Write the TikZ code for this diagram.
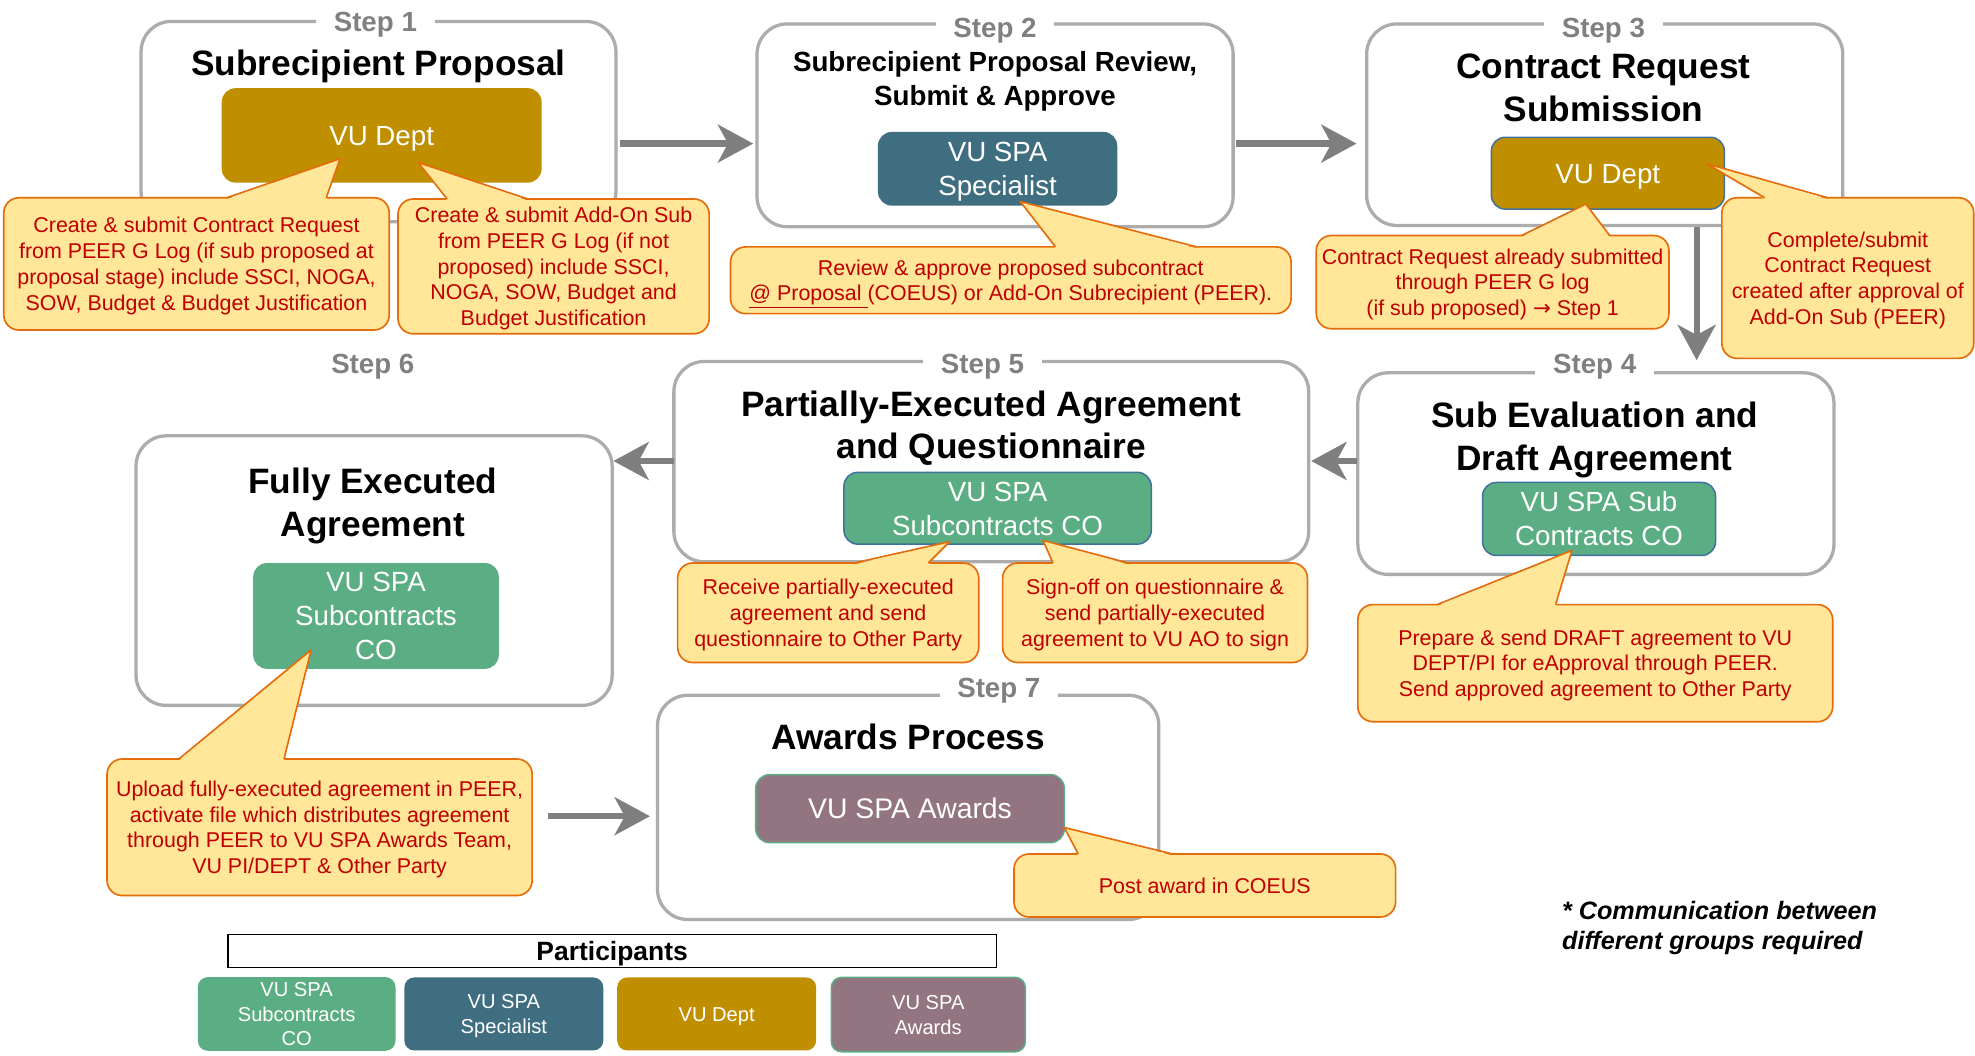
\documentclass[tikz,border=0pt]{standalone}
\usepackage{fontspec}
\setmainfont{Liberation Sans}
\newfontfamily\arrowfont{DejaVu Sans}
\usetikzlibrary{arrows.meta,calc}
\definecolor{stepgray}{RGB}{172,172,172}
\definecolor{labelgray}{RGB}{128,128,128}
\definecolor{arrowgray}{RGB}{127,127,127}
\definecolor{rolegold}{RGB}{191,143,0}
\definecolor{roleblue}{RGB}{63,110,129}
\definecolor{rolegreen}{RGB}{91,174,132}
\definecolor{rolepurple}{RGB}{147,117,130}
\definecolor{roleedge}{RGB}{65,113,156}
\definecolor{callfill}{RGB}{255,230,153}
\definecolor{calledge}{RGB}{228,108,10}
\definecolor{calltext}{RGB}{192,0,0}
\newcommand{\ptr}[4]{%
  \fill[callfill] ($(#2,0 |- #1.north)+(0,1.2)$) -- (#4) -- ($(#3,0 |- #1.north)+(0,1.2)$) -- cycle;
  \draw[draw=calledge, line width=1.3pt, line join=round] (#2,0 |- #1.north) -- (#4) -- (#3,0 |- #1.north);
}
\newcommand{\cl}[2][2pt]{\raisebox{-#1}[\height][\depth]{\begin{tabular}{@{}c@{}}#2\end{tabular}}}
\tikzset{
 stepbox/.style={draw=stepgray, line width=2.6pt, rounded corners=24pt, fill=white, inner sep=0pt, outer sep=0pt},
 steplabel/.style={fill=white, text=labelgray, font=\bfseries\fontsize{22}{26}\selectfont, inner xsep=14pt, inner ysep=2pt, text height=15.8pt, text depth=0pt},
 titletext/.style={font=\bfseries\fontsize{28}{34}\selectfont, align=center, inner sep=0pt},
 rolebox/.style={rounded corners=11pt, text=white, font=\fontsize{22}{27}\selectfont, inner sep=0pt, outer sep=0pt},
 callbox/.style={fill=callfill, draw=calledge, line width=1.3pt, rounded corners=12pt, text=calltext, font=\fontsize{17}{20.5}\selectfont, inner sep=0pt, outer sep=0pt},
 flow/.style={draw=arrowgray, line width=5pt, -{Stealth[length=28pt,width=30pt,inset=8pt]}},
 partbox/.style={rounded corners=8pt, text=white, font=\fontsize{16}{19.5}\selectfont, inner sep=0pt, outer sep=0pt},
}
\begin{document}
\begin{tikzpicture}[x=1pt,y=-1pt]
\useasboundingbox (0,0) rectangle (1568,838);
\fill[white] (0,0) rectangle (1568,838);

% step boxes
\node[stepbox, minimum width=377pt, minimum height=159pt] (s1) at (300.5,96.5) {};
\node[stepbox, minimum width=378pt, minimum height=161pt] (s2) at (790,99.5) {};
\node[stepbox, minimum width=378pt, minimum height=160pt] (s3) at (1274,99) {};
\node[stepbox, minimum width=378pt, minimum height=160pt] (s4) at (1267,376) {};
\node[stepbox, minimum width=504pt, minimum height=159pt] (s5) at (787,366.5) {};
\node[stepbox, minimum width=378pt, minimum height=214pt] (s6) at (297,453) {};
\node[stepbox, minimum width=398pt, minimum height=178pt] (s7) at (721,641) {};

% step labels
\node[steplabel] (l1) at (298,17) {Step 1};
\node[steplabel] (l2) at (790,22) {Step 2};
\node[steplabel] (l3) at (1273,22) {Step 3};
\node[steplabel] (l4) at (1266,289) {Step 4};
\node[steplabel] (l5) at (780,289) {Step 5};
\node[steplabel] (l6) at (296,289) {Step 6};
\node[steplabel] (l7) at (793,546) {Step 7};

% titles
\node[titletext] (t1) at (300.5,52.5) {Subrecipient Proposal};
\node[titletext, font=\bfseries\fontsize{22}{27}\selectfont] (t2) at (790,64.5) {Subrecipient Proposal Review,\\Submit \& Approve};
\node[titletext] (t3) at (1273,69.5) {Contract Request\\Submission};
\node[titletext] (t4) at (1266,349.5) {Sub Evaluation and\\Draft Agreement};
\node[titletext] (t5) at (787,340) {Partially-Executed Agreement\\and Questionnaire};
\node[titletext] (t6) at (296,401.5) {Fully Executed\\Agreement};
\node[titletext] (t7) at (721,585) {Awards Process};

% role boxes
\node[rolebox, fill=rolegold, minimum width=254pt, minimum height=75pt] (r1) at (303,107.5) {\cl[2.5pt]{VU Dept}};
\node[rolebox, fill=roleblue, minimum width=190pt, minimum height=58.5pt] (r2) at (792,134) {\cl[2.5pt]{VU SPA\\Specialist}};
\node[rolebox, fill=rolegold, draw=roleedge, line width=1.2pt, minimum width=185pt, minimum height=57pt] (r3) at (1276.5,137.5) {\cl[2.5pt]{VU Dept}};
\node[rolebox, fill=rolegreen, draw=roleedge, line width=1.2pt, minimum width=185pt, minimum height=58pt] (r4) at (1269.5,412) {\cl[2.5pt]{VU SPA Sub\\Contracts CO}};
\node[rolebox, fill=rolegreen, draw=roleedge, line width=1.2pt, minimum width=244pt, minimum height=57pt] (r5) at (792,403.5) {\cl[2.5pt]{VU SPA\\Subcontracts CO}};
\node[rolebox, fill=rolegreen, minimum width=195pt, minimum height=84pt] (r6) at (298.5,489) {\cl[2.5pt]{VU SPA\\Subcontracts\\CO}};
\node[rolebox, fill=rolepurple, draw=rolegreen, line width=1.2pt, minimum width=245pt, minimum height=54pt, font=\fontsize{22.5}{27}\selectfont] (r7) at (722.5,642) {\cl[2.5pt]{VU SPA Awards}};

% callouts
\node[callbox, minimum width=306pt, minimum height=105pt] (c1a) at (156,209.5) {\cl{Create \& submit Contract Request\\from PEER G Log (if sub proposed at\\proposal stage) include SSCI, NOGA,\\SOW, Budget \& Budget Justification}};
\coordinate (p1a) at (270,126);
\ptr{c1a}{180}{259}{p1a}
\node[callbox, minimum width=247pt, minimum height=107pt] (c1b) at (439.5,211.5) {\cl{Create \& submit Add-On Sub\\from PEER G Log (if not\\proposed) include SSCI,\\NOGA, SOW, Budget and\\Budget Justification}};
\coordinate (p1b) at (332,129);
\ptr{c1b}{355}{419}{p1b}
\node[callbox, minimum width=445pt, minimum height=53pt] (c2) at (802.5,222.5) {\cl{Review \& approve proposed subcontract\\\underline{@ Proposal }(COEUS) or Add-On Subrecipient (PEER).}};
\coordinate (p2) at (810,160);
\ptr{c2}{838}{950}{p2}
\node[callbox, minimum width=280pt, minimum height=74pt] (c3a) at (1185,224) {\cl{Contract Request already submitted\\through PEER G log\\(if sub proposed) {\arrowfont →} Step 1}};
\coordinate (p3a) at (1259,162);
\ptr{c3a}{1208}{1278}{p3a}
\node[callbox, minimum width=200pt, minimum height=127.5pt] (c3b) at (1467,220.75) {\cl{Complete/submit\\Contract Request\\created after approval of\\Add-On Sub (PEER)}};
\coordinate (p3b) at (1355,130);
\ptr{c3b}{1401}{1451}{p3b}
\node[callbox, minimum width=377pt, minimum height=93pt] (c4) at (1266.5,526.5) {\cl{Prepare \& send DRAFT agreement to VU\\DEPT/PI for eApproval through PEER.\\Send approved agreement to Other Party}};
\coordinate (p4) at (1248,437);
\ptr{c4}{1141}{1235}{p4}
\node[callbox, minimum width=239pt, minimum height=79pt] (c5a) at (657.5,486.5) {\cl{Receive partially-executed\\agreement and send\\questionnaire to Other Party}};
\coordinate (p5a) at (754,430);
\ptr{c5a}{678}{737}{p5a}
\node[callbox, minimum width=242pt, minimum height=79pt] (c5b) at (917,486.5) {\cl{Sign-off on questionnaire \&\\send partially-executed\\agreement to VU AO to sign}};
\coordinate (p5b) at (828,429);
\ptr{c5b}{836}{896}{p5b}
\node[callbox, minimum width=337.5pt, minimum height=108.4pt] (c6) at (253.75,656.8) {\cl{Upload fully-executed agreement in PEER,\\activate file which distributes agreement\\through PEER to VU SPA Awards Team,\\VU PI/DEPT \& Other Party}};
\coordinate (p6) at (247,516);
\ptr{c6}{142}{225.5}{p6}
\node[callbox, minimum width=303pt, minimum height=50pt] (c7) at (956.5,703) {\cl{Post award in COEUS}};
\coordinate (p7) at (845,657);
\ptr{c7}{856}{931}{p7}

% flow arrows
\draw[flow] ([shift={(3,17.5)}]s1.east) -- ([shift={(-3,14.5)}]s2.west);
\draw[flow] ([shift={(2,14.5)}]s2.east) -- ([shift={(-8,15)}]s3.west);
\draw[flow] ([shift={(73,1)}]s3.south) -- ([shift={(80,-10)}]s4.north);
\draw[flow] ([shift={(-1,-10)}]s4.west) -- ([shift={(2,-0.5)}]s5.east);
\draw[flow] ([shift={(0,-0.5)}]s5.west) -- ([shift={(1,-87)}]s6.east);
\draw[flow] ([shift={(12.5,-8.8)}]c6.east) -- ([shift={(-6,7)}]s7.west);

% participants
\node[draw=black, line width=1pt, minimum width=610pt, minimum height=26pt, inner sep=0pt, text height=15pt, text depth=0pt, font=\bfseries\fontsize{21}{24}\selectfont] (ph) at (486,755) {Participants};
\node[partbox, fill=rolegreen, minimum width=157pt, minimum height=58pt] (pa) at (235.5,805) {\cl[1.8pt]{VU SPA\\Subcontracts\\CO}};
\node[partbox, fill=roleblue, minimum width=158pt, minimum height=58pt] (pb) at (400,805) {\cl[1.8pt]{VU SPA\\Specialist}};
\node[partbox, fill=rolegold, minimum width=158pt, minimum height=58pt] (pc) at (569,805) {\cl[1.8pt]{VU Dept}};
\node[partbox, fill=rolepurple, draw=rolegreen, line width=1.2pt, minimum width=154pt, minimum height=59pt] (pd) at (737,805.5) {\cl[1.8pt]{VU SPA\\Awards}};

% note
\node[anchor=west, align=left, inner sep=0pt, font=\bfseries\itshape\fontsize{20}{24}\selectfont] (note) at (1240,737) {* Communication between\\different groups required};
\end{tikzpicture}
\end{document}
